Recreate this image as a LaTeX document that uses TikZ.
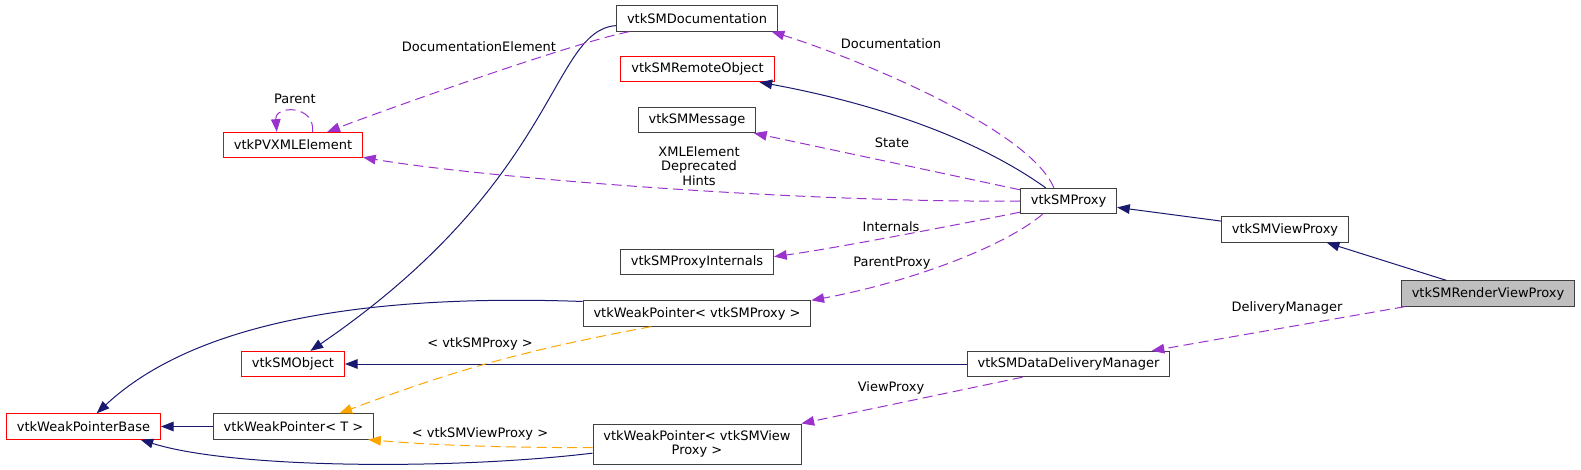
\documentclass[tikz,border=0pt]{standalone}
\usepackage{fontspec}
\setmainfont{DejaVu Sans}
\usetikzlibrary{arrows.meta}

\definecolor{boxgray}{HTML}{404040}
\definecolor{inhblue}{HTML}{191970}
\definecolor{usepurple}{HTML}{9A32CD}
\definecolor{tmplorange}{HTML}{FFA500}
\definecolor{focusgray}{HTML}{BFBFBF}

\begin{document}
\begin{tikzpicture}[
    x=0.75pt, y=-0.75pt,
    font=\fontsize{9.75}{11}\selectfont,
    cls/.style={rectangle, draw=boxgray, line width=0.75pt, inner xsep=7.8pt, inner ysep=1pt, minimum height=19pt, align=center},
    undoc/.style={draw=red},
    focus/.style={fill=focusgray},
    lbl/.style={align=center, inner sep=1pt},
    inh/.style={-{Triangle[length=9.5pt, width=7.2pt]}, line width=0.75pt, inhblue},
    use/.style={-{Triangle[length=9.5pt, width=7.2pt]}, line width=0.75pt, usepurple, dash pattern=on 7.5pt off 4pt},
    tmpl/.style={-{Triangle[length=9.5pt, width=7.2pt]}, line width=0.75pt, tmplorange, dash pattern=on 7.5pt off 4pt}
]
\useasboundingbox (0,0) rectangle (1581,470);

% classes
\node[cls] (doc) at (697,18.5) {vtkSMDocumentation};
\node[cls, undoc] (remote) at (697.5,69) {vtkSMRemoteObject};
\node[cls] (msg) at (697,120) {vtkSMMessage};
\node[cls, undoc] (pvxml) at (293,145) {vtkPVXMLElement};
\node[cls] (proxy) at (1068.5,201) {vtkSMProxy};
\node[cls] (viewproxy) at (1285,229.5) {vtkSMViewProxy};
\node[cls, focus] (render) at (1488,293.5) {vtkSMRenderViewProxy};
\node[cls] (internals) at (697,262) {vtkSMProxyInternals};
\node[cls] (wpproxy) at (697,313.5) {vtkWeakPointer< vtkSMProxy >};
\node[cls] (ddm) at (1068.5,364) {vtkSMDataDeliveryManager};
\node[cls, undoc] (smobject) at (293,364) {vtkSMObject};
\node[cls, undoc] (wpbase) at (83.5,426.5) {vtkWeakPointerBase};
\node[cls] (wpT) at (293.5,426.5) {vtkWeakPointer< T >};
\node[cls, minimum height=30pt] (wpview) at (697,444) {vtkWeakPointer< vtkSMView\\Proxy >};

% inheritance
\draw[inh] (viewproxy) -- (proxy);
\draw[inh] (render) -- (viewproxy);
\draw[inh] (ddm) -- (smobject);
\draw[inh] (wpT) -- (wpbase);
\draw[inh] (proxy.150) .. controls +(-67,-48) and +(120,22) .. (remote.-12);
\draw[inh] (doc.185) .. controls +(-66,5) and +(250,-171) .. (smobject.37);
\draw[inh] (wpproxy.174) .. controls +(-281,-10) and +(74,-69) .. (wpbase.45);
\draw[inh] (wpview.185) .. controls +(-141,17) and +(92,29) .. (wpbase.-13);

% members
\draw[use] (proxy.138) .. controls +(-25,-60) and +(80,25) .. (doc.-10);
\node[lbl] (lDoc) at (891,44) {Documentation};
\draw[use] (doc.191) .. controls +(-60,12) and +(50,-19) .. (pvxml.21);
\node[lbl] (lDocElem) at (479,47) {DocumentationElement};
\draw[use] (pvxml.34) .. controls +(3,-27) and +(-2,-27) .. (pvxml.141);
\node[lbl] (lParent) at (295,99) {Parent};
\draw[use] (proxy.180) .. controls +(-219,2) and +(116,20) .. (pvxml.-10);
\node[lbl] (lXml) at (699,166) {XMLElement\\Deprecated\\Hints};
\draw[use] (proxy.167) -- (msg.-13);
\node[lbl] (lState) at (892,143) {State};
\draw[use] (proxy.193) .. controls +(-50,10) and +(60,-8) .. (internals.4);
\node[lbl] (lInt) at (891,227) {Internals};
\draw[use] (proxy.207) .. controls +(-43,36) and +(88,-16) .. (wpproxy.north east);
\node[lbl] (lPProxy) at (892,263) {ParentProxy};
\draw[use] (render.189) -- (ddm.9);
\node[lbl] (lDeliv) at (1287,308) {DeliveryManager};
\draw[use] (ddm.196) -- (wpview.north east);
\node[lbl] (lView) at (891,388) {ViewProxy};

% template instances
\draw[tmpl] (wpproxy.196) to[bend right=5] (wpT.16);
\node[lbl] (lTProxy) at (480,344) {< vtkSMProxy >};
\draw[tmpl] (wpview.182) .. controls +(-100,0) and +(60,5) .. (wpT.-10);
\node[lbl] (lTView) at (480,434) {< vtkSMViewProxy >};
\end{tikzpicture}
\end{document}
